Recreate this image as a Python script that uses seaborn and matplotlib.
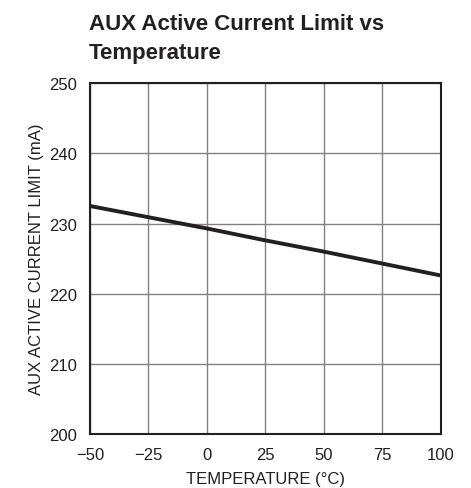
import seaborn as sns
import numpy as np
import matplotlib.pyplot as plt
import pandas as pd

temps = [-50, -25, 0, 25, 50, 75, 100]
current = [232.5, 230.9, 229.3, 227.6, 226.0, 224.3, 222.6]
xticks = [-50, -25, 0, 25, 50, 75, 100]
yticks = [200, 210, 220, 230, 240, 250]

df = pd.DataFrame({'temp': temps, 'current': current})

sns.set_style('whitegrid', {'grid.color': '#808080', 'axes.edgecolor': 'black'})
plt.rcParams['font.family'] = ['Liberation Sans', 'DejaVu Sans']
plt.rcParams['axes.unicode_minus'] = True

f = plt.figure(figsize=(4.71, 4.89), dpi=100)
ax = f.add_axes([0.191, 0.110, 0.745, 0.718])
sns.lineplot(x='temp', y='current', data=df, ax=ax, color='#231f20', linewidth=2.8)

ax.set_xlim(-50, 100)
ax.set_ylim(200, 250)
ax.set_xticks(xticks)
ax.set_yticks(yticks)
ax.set_xticklabels([str(t).replace('-', '\u2212') for t in xticks])
ax.grid(True, color='#808080', linewidth=1)
for s in ax.spines.values():
    s.set_linewidth(1.5)
    s.set_color('#231f20')
ax.tick_params(axis='both', length=0, labelsize=12, colors='#231f20')
ax.tick_params(axis='x', pad=9)
ax.tick_params(axis='y', pad=9)
ax.set_xlabel('TEMPERATURE (\u00b0C)', fontsize=12, color='#231f20', labelpad=7)
ax.set_ylabel('AUX ACTIVE CURRENT LIMIT (mA)', fontsize=12, color='#231f20', labelpad=4)

f.text(0.189, 0.972, 'AUX Active Current Limit vs\nTemperature', fontsize=16,
       fontweight='bold', color='#231f20', ha='left', va='top', linespacing=1.55)

f.savefig('out.png', dpi=100)
